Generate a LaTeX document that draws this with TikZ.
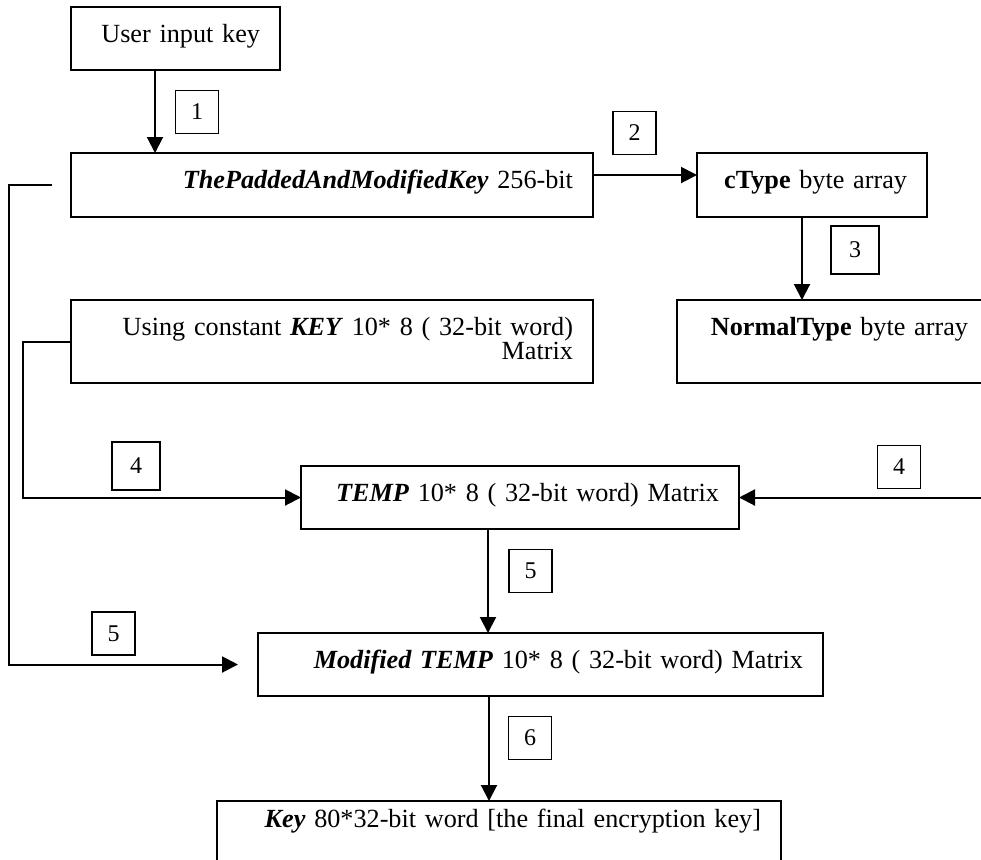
\documentclass[tikz,border=0pt]{standalone}
\usepackage{fontspec}
\setmainfont{Liberation Serif}
\usetikzlibrary{arrows.meta,positioning}

\begin{document}
\begin{tikzpicture}[x=1pt, y=1pt, font=\fontsize{13.1}{12}\selectfont, node distance=41.5pt,
  wbox/.style={draw, line width=1pt, outer sep=0pt, inner xsep=10pt, inner ysep=0pt, align=right, text height=17.5pt, text depth=14pt},
  tag/.style={draw, line width=0.9pt, minimum size=21.5pt, inner sep=0pt, font=\fontsize{12}{12}\selectfont},
  a/.style={line width=1pt, -{Triangle[length=8pt, width=8pt]}}]
  \clip (0,0) rectangle (490.5,-429.5);
  % boxes
  \node[wbox, text width=84.5pt, anchor=north west] (user) at (35.5,-3.5) {User input key};
  \node[wbox, text width=241pt, text depth=14.5pt, below=of user.south west, anchor=north west] (padded) {\textbf{\textit{ThePaddedAndModifiedKey}} 256-bit};
  \node[wbox, text width=95pt, text depth=14.5pt, right=52pt of padded.north east, anchor=north west] (ctype) {\textbf{cType} byte array};
  \node[wbox, text width=241pt, text depth=24pt, below=of padded.south west, anchor=north west] (const) {Using constant \textbf{\textit{KEY}} 10* 8 ( 32-bit word)\\Matrix};
  \node[wbox, text width=135.5pt, text depth=24pt, right=42pt of const.north east, anchor=north west] (normal) {\textbf{NormalType} byte array};
  \node[wbox, text width=199pt, below right=41.5pt and 115pt of const.south west, anchor=north west] (temp) {\textbf{\textit{TEMP}} 10* 8 ( 32-bit word) Matrix};
  \node[wbox, text width=262.5pt, below=52pt of temp.south west, anchor=north west, xshift=-21.5pt] (mod) {\textbf{\textit{Modified TEMP}} 10* 8 ( 32-bit word) Matrix};
  \node[wbox, text width=262pt, text height=13pt, text depth=18.5pt, below=52.5pt of mod.south west, anchor=north west, xshift=-20.5pt] (key) {\textbf{\textit{Key}} 80*32-bit word [the final encryption key]};
  % step numbers
  \node[tag] (t1) at (98.5,-56) {1};
  \node[tag] (t2) at (317.25,-66.5) {2};
  \node[tag, minimum size=24pt] (t3) at (427.5,-125) {3};
  \node[tag, minimum size=24pt] (t4a) at (68,-233) {4};
  \node[tag] (t4b) at (449.5,-233.5) {4};
  \node[tag] (t5a) at (265.25,-285.5) {5};
  \node[tag] (t5b) at (56.75,-316.75) {5};
  \node[tag] (t6) at (265,-369) {6};
  % connectors
  \coordinate (c1) at ([xshift=42pt]user.south west);
  \draw[a] (c1) -- (c1 |- padded.north);
  \draw[a] ([yshift=5pt]padded.east) -- ([yshift=5pt]ctype.west);
  \coordinate (c3) at ([xshift=-5pt]ctype.south);
  \draw[a] (c3) -- (c3 |- normal.north);
  \draw[a] (const.west) -- ++(-24pt,0) |- (temp.west);
  \coordinate (rin) at ([xshift=130pt]temp.east);
  \draw[a] (rin) -- (temp.east);
  \coordinate (c5) at ([xshift=-16pt]temp.south);
  \draw[a] (c5) -- (c5 |- mod.north);
  \coordinate (fb) at ([xshift=-9.5pt]padded.west);
  \coordinate (fbend) at ([xshift=-10pt]mod.west);
  \draw[a] (fb) -- ++(-21.5pt,0) |- (fbend);
  \coordinate (c6) at ([xshift=-25.75pt]mod.south);
  \draw[a] (c6) -- (c6 |- key.north);
\end{tikzpicture}
\end{document}
